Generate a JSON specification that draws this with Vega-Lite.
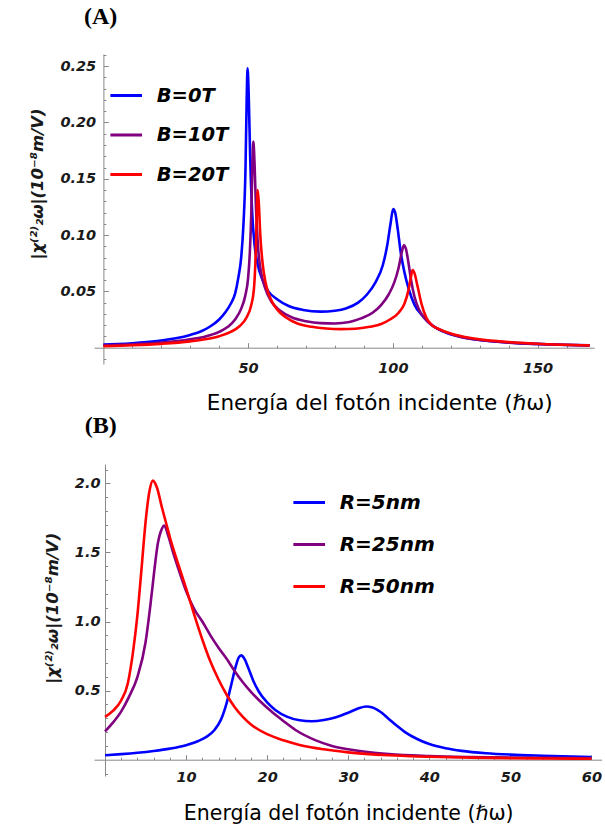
{
  "$schema": "https://vega.github.io/schema/vega-lite/v6.json",
  "background": "white",
  "padding": {"left": 29, "top": 4, "right": 0, "bottom": 0},
  "autosize": {"type": "pad"},
  "config": {"view": {"stroke": null}, "axis": {"grid": false}},
  "bounds": "flush",
  "spacing": 100,
  "resolve": {"scale": {"color": "independent"}},
  "datasets": {
    "A": [
      {"s":"B=0T","x":0,"y":0.0027},{"s":"B=0T","x":5,"y":0.0032},{"s":"B=0T","x":10,"y":0.0039},{"s":"B=0T","x":15,"y":0.0049},{"s":"B=0T","x":20,"y":0.0063},{"s":"B=0T","x":25,"y":0.0083},{"s":"B=0T","x":30,"y":0.0113},{"s":"B=0T","x":34,"y":0.0148},{"s":"B=0T","x":37,"y":0.019},{"s":"B=0T","x":40,"y":0.025},{"s":"B=0T","x":42,"y":0.031},{"s":"B=0T","x":44,"y":0.039},{"s":"B=0T","x":45.5,"y":0.048},{"s":"B=0T","x":46.6,"y":0.062},{"s":"B=0T","x":47.6,"y":0.08},{"s":"B=0T","x":48.4,"y":0.11},{"s":"B=0T","x":49.1,"y":0.16},{"s":"B=0T","x":49.5,"y":0.22},{"s":"B=0T","x":49.8,"y":0.248},{"s":"B=0T","x":50.2,"y":0.225},{"s":"B=0T","x":50.7,"y":0.17},{"s":"B=0T","x":51.4,"y":0.12},{"s":"B=0T","x":52.2,"y":0.092},{"s":"B=0T","x":53.3,"y":0.074},{"s":"B=0T","x":55,"y":0.06},{"s":"B=0T","x":57,"y":0.05},{"s":"B=0T","x":60,"y":0.043},{"s":"B=0T","x":64,"y":0.037},{"s":"B=0T","x":69,"y":0.0335},{"s":"B=0T","x":75,"y":0.032},{"s":"B=0T","x":80,"y":0.0328},{"s":"B=0T","x":84,"y":0.035},{"s":"B=0T","x":88,"y":0.04},{"s":"B=0T","x":91,"y":0.047},{"s":"B=0T","x":94,"y":0.058},{"s":"B=0T","x":96.5,"y":0.073},{"s":"B=0T","x":98,"y":0.09},{"s":"B=0T","x":99.2,"y":0.11},{"s":"B=0T","x":100.1,"y":0.123},{"s":"B=0T","x":100.8,"y":0.12},{"s":"B=0T","x":101.7,"y":0.105},{"s":"B=0T","x":102.7,"y":0.085},{"s":"B=0T","x":104,"y":0.067},{"s":"B=0T","x":105.5,"y":0.052},{"s":"B=0T","x":107.5,"y":0.038},{"s":"B=0T","x":110,"y":0.029},{"s":"B=0T","x":113,"y":0.021},{"s":"B=0T","x":117,"y":0.0148},{"s":"B=0T","x":122,"y":0.0105},{"s":"B=0T","x":128,"y":0.0075},{"s":"B=0T","x":135,"y":0.0055},{"s":"B=0T","x":145,"y":0.0038},{"s":"B=0T","x":155,"y":0.0028},{"s":"B=0T","x":168,"y":0.002},
      {"s":"B=10T","x":0,"y":0.002},{"s":"B=10T","x":10,"y":0.0029},{"s":"B=10T","x":20,"y":0.0045},{"s":"B=10T","x":30,"y":0.0075},{"s":"B=10T","x":35,"y":0.0098},{"s":"B=10T","x":40,"y":0.014},{"s":"B=10T","x":43,"y":0.0185},{"s":"B=10T","x":45.5,"y":0.025},{"s":"B=10T","x":47.5,"y":0.034},{"s":"B=10T","x":49,"y":0.046},{"s":"B=10T","x":50,"y":0.062},{"s":"B=10T","x":50.6,"y":0.085},{"s":"B=10T","x":51.1,"y":0.12},{"s":"B=10T","x":51.5,"y":0.165},{"s":"B=10T","x":51.8,"y":0.183},{"s":"B=10T","x":52.2,"y":0.165},{"s":"B=10T","x":52.7,"y":0.125},{"s":"B=10T","x":53.4,"y":0.09},{"s":"B=10T","x":54.4,"y":0.068},{"s":"B=10T","x":56,"y":0.052},{"s":"B=10T","x":58,"y":0.041},{"s":"B=10T","x":61,"y":0.033},{"s":"B=10T","x":65,"y":0.027},{"s":"B=10T","x":70,"y":0.0235},{"s":"B=10T","x":75,"y":0.0218},{"s":"B=10T","x":80,"y":0.0215},{"s":"B=10T","x":85,"y":0.0228},{"s":"B=10T","x":89,"y":0.026},{"s":"B=10T","x":93,"y":0.031},{"s":"B=10T","x":96,"y":0.038},{"s":"B=10T","x":98.5,"y":0.047},{"s":"B=10T","x":100.5,"y":0.058},{"s":"B=10T","x":102,"y":0.071},{"s":"B=10T","x":103.1,"y":0.085},{"s":"B=10T","x":103.8,"y":0.091},{"s":"B=10T","x":104.5,"y":0.088},{"s":"B=10T","x":105.3,"y":0.077},{"s":"B=10T","x":106.3,"y":0.06},{"s":"B=10T","x":107.5,"y":0.045},{"s":"B=10T","x":109,"y":0.034},{"s":"B=10T","x":111,"y":0.026},{"s":"B=10T","x":114,"y":0.019},{"s":"B=10T","x":118,"y":0.014},{"s":"B=10T","x":123,"y":0.0098},{"s":"B=10T","x":130,"y":0.0068},{"s":"B=10T","x":140,"y":0.0045},{"s":"B=10T","x":150,"y":0.0032},{"s":"B=10T","x":168,"y":0.0019},
      {"s":"B=20T","x":0,"y":0.0013},{"s":"B=20T","x":10,"y":0.0021},{"s":"B=20T","x":20,"y":0.0034},{"s":"B=20T","x":30,"y":0.0056},{"s":"B=20T","x":35,"y":0.0074},{"s":"B=20T","x":40,"y":0.0102},{"s":"B=20T","x":44,"y":0.014},{"s":"B=20T","x":47,"y":0.019},{"s":"B=20T","x":49.5,"y":0.027},{"s":"B=20T","x":51,"y":0.037},{"s":"B=20T","x":52,"y":0.052},{"s":"B=20T","x":52.5,"y":0.075},{"s":"B=20T","x":52.9,"y":0.11},{"s":"B=20T","x":53.3,"y":0.14},{"s":"B=20T","x":53.7,"y":0.128},{"s":"B=20T","x":54.2,"y":0.1},{"s":"B=20T","x":55,"y":0.075},{"s":"B=20T","x":56,"y":0.058},{"s":"B=20T","x":57.5,"y":0.045},{"s":"B=20T","x":60,"y":0.034},{"s":"B=20T","x":63,"y":0.027},{"s":"B=20T","x":67,"y":0.0215},{"s":"B=20T","x":72,"y":0.0185},{"s":"B=20T","x":77,"y":0.017},{"s":"B=20T","x":82,"y":0.0165},{"s":"B=20T","x":87,"y":0.0168},{"s":"B=20T","x":92,"y":0.0185},{"s":"B=20T","x":96,"y":0.021},{"s":"B=20T","x":99,"y":0.025},{"s":"B=20T","x":102,"y":0.031},{"s":"B=20T","x":104,"y":0.039},{"s":"B=20T","x":105.3,"y":0.05},{"s":"B=20T","x":106.2,"y":0.062},{"s":"B=20T","x":106.8,"y":0.069},{"s":"B=20T","x":107.5,"y":0.066},{"s":"B=20T","x":108.5,"y":0.055},{"s":"B=20T","x":110,"y":0.038},{"s":"B=20T","x":111.5,"y":0.027},{"s":"B=20T","x":113.5,"y":0.02},{"s":"B=20T","x":116,"y":0.0165},{"s":"B=20T","x":120,"y":0.0125},{"s":"B=20T","x":125,"y":0.0095},{"s":"B=20T","x":132,"y":0.0068},{"s":"B=20T","x":140,"y":0.005},{"s":"B=20T","x":150,"y":0.0035},{"s":"B=20T","x":168,"y":0.002}
    ],
    "B": [
      {"s":"R=5nm","x":0,"y":0.032},{"s":"R=5nm","x":2,"y":0.04},{"s":"R=5nm","x":4,"y":0.05},{"s":"R=5nm","x":6,"y":0.063},{"s":"R=5nm","x":8,"y":0.08},{"s":"R=5nm","x":10,"y":0.105},{"s":"R=5nm","x":11.5,"y":0.135},{"s":"R=5nm","x":12.5,"y":0.165},{"s":"R=5nm","x":13.5,"y":0.215},{"s":"R=5nm","x":14.3,"y":0.29},{"s":"R=5nm","x":15,"y":0.41},{"s":"R=5nm","x":15.6,"y":0.55},{"s":"R=5nm","x":16.1,"y":0.67},{"s":"R=5nm","x":16.5,"y":0.74},{"s":"R=5nm","x":16.8,"y":0.755},{"s":"R=5nm","x":17.2,"y":0.73},{"s":"R=5nm","x":17.7,"y":0.66},{"s":"R=5nm","x":18.3,"y":0.57},{"s":"R=5nm","x":19,"y":0.49},{"s":"R=5nm","x":20,"y":0.415},{"s":"R=5nm","x":21,"y":0.36},{"s":"R=5nm","x":22.5,"y":0.31},{"s":"R=5nm","x":24,"y":0.285},{"s":"R=5nm","x":25.5,"y":0.278},{"s":"R=5nm","x":27,"y":0.287},{"s":"R=5nm","x":28.5,"y":0.307},{"s":"R=5nm","x":30,"y":0.34},{"s":"R=5nm","x":31.2,"y":0.37},{"s":"R=5nm","x":32.2,"y":0.385},{"s":"R=5nm","x":33,"y":0.378},{"s":"R=5nm","x":34,"y":0.345},{"s":"R=5nm","x":35,"y":0.295},{"s":"R=5nm","x":36,"y":0.245},{"s":"R=5nm","x":37,"y":0.2},{"s":"R=5nm","x":38.5,"y":0.15},{"s":"R=5nm","x":40,"y":0.113},{"s":"R=5nm","x":42,"y":0.083},{"s":"R=5nm","x":44,"y":0.064},{"s":"R=5nm","x":47,"y":0.047},{"s":"R=5nm","x":50,"y":0.037},{"s":"R=5nm","x":54,"y":0.029},{"s":"R=5nm","x":60,"y":0.02},
      {"s":"R=25nm","x":0,"y":0.205},{"s":"R=25nm","x":1,"y":0.27},{"s":"R=25nm","x":2,"y":0.35},{"s":"R=25nm","x":3,"y":0.46},{"s":"R=25nm","x":4,"y":0.6},{"s":"R=25nm","x":5,"y":0.85},{"s":"R=25nm","x":5.6,"y":1.12},{"s":"R=25nm","x":6.1,"y":1.38},{"s":"R=25nm","x":6.5,"y":1.56},{"s":"R=25nm","x":7,"y":1.67},{"s":"R=25nm","x":7.3,"y":1.695},{"s":"R=25nm","x":7.8,"y":1.62},{"s":"R=25nm","x":8.5,"y":1.48},{"s":"R=25nm","x":9,"y":1.39},{"s":"R=25nm","x":10,"y":1.22},{"s":"R=25nm","x":11,"y":1.09},{"s":"R=25nm","x":12,"y":1.0},{"s":"R=25nm","x":13,"y":0.9},{"s":"R=25nm","x":14,"y":0.81},{"s":"R=25nm","x":15,"y":0.73},{"s":"R=25nm","x":16,"y":0.64},{"s":"R=25nm","x":17,"y":0.56},{"s":"R=25nm","x":18,"y":0.49},{"s":"R=25nm","x":19,"y":0.43},{"s":"R=25nm","x":20.5,"y":0.35},{"s":"R=25nm","x":22,"y":0.28},{"s":"R=25nm","x":23.5,"y":0.215},{"s":"R=25nm","x":26,"y":0.14},{"s":"R=25nm","x":28,"y":0.1},{"s":"R=25nm","x":30,"y":0.075},{"s":"R=25nm","x":35,"y":0.04},{"s":"R=25nm","x":40,"y":0.026},{"s":"R=25nm","x":45,"y":0.019},{"s":"R=25nm","x":50,"y":0.015},{"s":"R=25nm","x":55,"y":0.013},{"s":"R=25nm","x":60,"y":0.011},
      {"s":"R=50nm","x":0,"y":0.31},{"s":"R=50nm","x":1,"y":0.355},{"s":"R=50nm","x":2,"y":0.43},{"s":"R=50nm","x":2.8,"y":0.55},{"s":"R=50nm","x":3.5,"y":0.8},{"s":"R=50nm","x":4,"y":1.05},{"s":"R=50nm","x":4.5,"y":1.38},{"s":"R=50nm","x":5,"y":1.72},{"s":"R=50nm","x":5.5,"y":1.95},{"s":"R=50nm","x":5.9,"y":2.02},{"s":"R=50nm","x":6.4,"y":1.97},{"s":"R=50nm","x":7,"y":1.83},{"s":"R=50nm","x":7.5,"y":1.72},{"s":"R=50nm","x":8,"y":1.61},{"s":"R=50nm","x":9,"y":1.42},{"s":"R=50nm","x":10,"y":1.24},{"s":"R=50nm","x":11,"y":1.05},{"s":"R=50nm","x":12,"y":0.87},{"s":"R=50nm","x":13,"y":0.71},{"s":"R=50nm","x":14,"y":0.58},{"s":"R=50nm","x":15,"y":0.47},{"s":"R=50nm","x":16,"y":0.38},{"s":"R=50nm","x":17,"y":0.31},{"s":"R=50nm","x":18,"y":0.255},{"s":"R=50nm","x":20,"y":0.185},{"s":"R=50nm","x":22,"y":0.14},{"s":"R=50nm","x":24,"y":0.107},{"s":"R=50nm","x":27,"y":0.075},{"s":"R=50nm","x":30,"y":0.053},{"s":"R=50nm","x":35,"y":0.032},{"s":"R=50nm","x":40,"y":0.021},{"s":"R=50nm","x":45,"y":0.015},{"s":"R=50nm","x":50,"y":0.011},{"s":"R=50nm","x":55,"y":0.009},{"s":"R=50nm","x":60,"y":0.007}
    ]
  },
  "vconcat": [
    {
      "data": {"name": "A"},
      "width": 500,
      "height": 310,
      "title": {"text": "(A)", "font": "Liberation Serif", "fontSize": 24, "fontWeight": "bold", "color": "black", "anchor": "start", "align": "center", "dx": 6.7, "offset": 18, "frame": "group"},
      "mark": {"type": "line", "strokeWidth": 2.6, "interpolate": "monotone"},
      "encoding": {
        "x": {
          "field": "x", "type": "quantitative",
          "scale": {"domain": [-3.25, 169.5], "nice": false, "zero": false},
          "axis": {
            "orient": "bottom", "offset": -16.3,
            "values": [10,20,30,40,50,60,70,80,90,100,110,120,130,140,150,160],
            "labelExpr": "datum.value % 50 == 0 ? format(datum.value, 'd') : ''",
            "tickSize": {"condition": {"test": "datum.value % 50 == 0", "value": -5}, "value": -2.5},
            "labelPadding": 19, "labelFlush": false, "labelOverlap": false,
            "labelFont": "DejaVu Sans", "labelFontSize": 14.5, "labelFontWeight": "bold", "labelFontStyle": "italic", "labelColor": "#1a1a1a",
            "domainColor": "#888888", "tickColor": "#888888", "domainWidth": 1, "tickWidth": 1,
            "title": "Energía del fotón incidente (ℏω)", "titleFont": "DejaVu Sans", "titleFontSize": 21.5, "titleFontWeight": "normal", "titleColor": "black",
            "titleX": 285.2, "titleY": 61.3, "titleAlign": "center", "titleBaseline": "alphabetic"
          }
        },
        "y": {
          "field": "y", "type": "quantitative",
          "scale": {"domain": [-0.0145, 0.2608], "nice": false, "zero": false},
          "axis": {
            "orient": "left", "offset": -9.4,
            "values": [-0.01,0.01,0.02,0.03,0.04,0.05,0.06,0.07,0.08,0.09,0.1,0.11,0.12,0.13,0.14,0.15,0.16,0.17,0.18,0.19,0.2,0.21,0.22,0.23,0.24,0.25,0.26],
            "labelExpr": "round(datum.value*100) % 5 == 0 ? format(datum.value, '.2f') : ''",
            "tickSize": {"condition": {"test": "round(datum.value*100) % 5 == 0", "value": -5}, "value": -2.5},
            "labelPadding": 12.7, "labelFlush": false, "labelOverlap": false,
            "labelFont": "DejaVu Sans", "labelFontSize": 14.5, "labelFontWeight": "bold", "labelFontStyle": "italic", "labelColor": "#1a1a1a",
            "domainColor": "#888888", "tickColor": "#888888", "domainWidth": 1, "tickWidth": 1,
            "title": "|χ⁽²⁾₂ω|(10⁻⁸m/V)", "titleFont": "DejaVu Sans", "titleFontSize": 16.5, "titleFontWeight": "bold", "titleFontStyle": "italic", "titleColor": "#1a1a1a",
            "titleAngle": 270, "titleX": -57.7, "titleY": 129.5, "titleAlign": "center", "titleBaseline": "bottom"
          }
        },
        "color": {
          "field": "s", "type": "nominal",
          "scale": {"domain": ["B=0T","B=10T","B=20T"], "range": ["#0000ff","#800080","#ff0000"]},
          "legend": {
            "orient": "none", "legendX": 14.7, "legendY": 24, "title": null, "padding": 0, "offset": 0,
            "symbolType": "stroke", "symbolSize": 1000, "symbolStrokeWidth": 3,
            "labelFont": "DejaVu Sans", "labelFontSize": 19.5, "labelFontWeight": "bold", "labelFontStyle": "italic", "labelColor": "black",
            "labelOffset": 13, "rowPadding": 12.5
          }
        }
      }
    },
    {
      "data": {"name": "B"},
      "width": 508,
      "height": 312,
      "title": {"text": "(B)", "font": "Liberation Serif", "fontSize": 24, "fontWeight": "bold", "color": "black", "anchor": "start", "align": "center", "dx": 6.7, "offset": 24, "frame": "group"},
      "mark": {"type": "line", "strokeWidth": 2.6, "interpolate": "monotone"},
      "encoding": {
        "x": {
          "field": "x", "type": "quantitative",
          "scale": {"domain": [-1.36, 61.3], "nice": false, "zero": false},
          "axis": {
            "orient": "bottom", "offset": -16.3,
            "values": [2,4,6,8,10,12,14,16,18,20,22,24,26,28,30,32,34,36,38,40,42,44,46,48,50,52,54,56,58,60],
            "labelExpr": "datum.value % 10 == 0 ? format(datum.value, 'd') : ''",
            "tickSize": {"condition": {"test": "datum.value % 10 == 0", "value": -5}, "value": -2.5},
            "labelPadding": 16, "labelFlush": false, "labelOverlap": false,
            "labelFont": "DejaVu Sans", "labelFontSize": 14.5, "labelFontWeight": "bold", "labelFontStyle": "italic", "labelColor": "#1a1a1a",
            "domainColor": "#888888", "tickColor": "#888888", "domainWidth": 1, "tickWidth": 1,
            "title": "Energía del fotón incidente (ℏω)", "titleFont": "DejaVu Sans", "titleFontSize": 20.5, "titleFontWeight": "normal", "titleColor": "black",
            "titleX": 254.2, "titleY": 60, "titleAlign": "center", "titleBaseline": "alphabetic"
          }
        },
        "y": {
          "field": "y", "type": "quantitative",
          "scale": {"domain": [-0.118, 2.14], "nice": false, "zero": false},
          "axis": {
            "orient": "left", "offset": -11,
            "values": [-0.1,0.1,0.2,0.3,0.4,0.5,0.6,0.7,0.8,0.9,1.0,1.1,1.2,1.3,1.4,1.5,1.6,1.7,1.8,1.9,2.0,2.1],
            "labelExpr": "round(datum.value*10) % 5 == 0 ? format(datum.value, '.1f') : ''",
            "tickSize": {"condition": {"test": "round(datum.value*10) % 5 == 0", "value": -5}, "value": -2.5},
            "labelPadding": 10, "labelFlush": false, "labelOverlap": false,
            "labelFont": "DejaVu Sans", "labelFontSize": 14.5, "labelFontWeight": "bold", "labelFontStyle": "italic", "labelColor": "#1a1a1a",
            "domainColor": "#888888", "tickColor": "#888888", "domainWidth": 1, "tickWidth": 1,
            "title": "|χ⁽²⁾₂ω|(10⁻⁸m/V)", "titleFont": "DejaVu Sans", "titleFontSize": 16.5, "titleFontWeight": "bold", "titleFontStyle": "italic", "titleColor": "#1a1a1a",
            "titleAngle": 270, "titleX": -44.3, "titleY": 143.8, "titleAlign": "center", "titleBaseline": "bottom"
          }
        },
        "color": {
          "field": "s", "type": "nominal",
          "scale": {"domain": ["R=5nm","R=25nm","R=50nm"], "range": ["#0000ff","#800080","#ff0000"]},
          "legend": {
            "orient": "none", "legendX": 197.7, "legendY": 21, "title": null, "padding": 0, "offset": 0,
            "symbolType": "stroke", "symbolSize": 1000, "symbolStrokeWidth": 3,
            "labelFont": "DejaVu Sans", "labelFontSize": 20, "labelFontWeight": "bold", "labelFontStyle": "italic", "labelColor": "black",
            "labelOffset": 13, "rowPadding": 14
          }
        }
      }
    }
  ]
}
